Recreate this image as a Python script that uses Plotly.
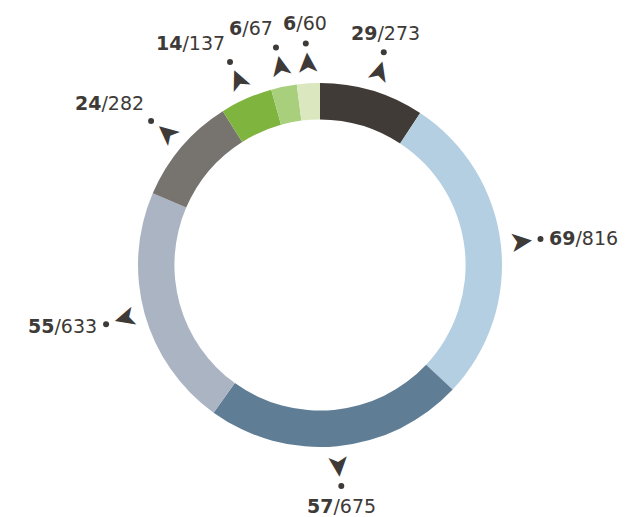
import numpy as np
import plotly.graph_objects as go

# ---- data ----
numerators = [29, 69, 57, 55, 24, 14, 6, 6]
totals = [273, 816, 675, 633, 282, 137, 67, 60]
colors = ["#403b37", "#b3cfe1", "#5f7e96", "#aab4c3",
          "#77736f", "#7fb43e", "#a8d07c", "#dbe8bf"]

# ---- layout constants ----
W, H = 626, 517
CX, CY, R = 320, 265, 182
HOLE = 0.80
INK = "#3d3a37"
FONT = "DejaVu Sans"
R_ARROW, R_DOT, R_LABEL = 202, 222, 229

fig = go.Figure()
fig.add_trace(go.Pie(
    values=totals, sort=False, direction="clockwise", rotation=0,
    hole=HOLE, textinfo="none", hoverinfo="skip", showlegend=False,
    marker=dict(colors=colors, line=dict(width=0)),
    domain=dict(x=[(CX - R) / W, (CX + R) / W],
                y=[(H - CY - R) / H, (H - CY + R) / H]),
))

vals = np.array(totals, dtype=float)
cum = np.cumsum(vals)
mid = (cum - vals / 2) / vals.sum() * 2 * np.pi
s, c = np.sin(mid), np.cos(mid)
deg = np.degrees(mid)


def pt(r):
    return CX + r * s, CY - r * c


dx, dy = pt(R_DOT)
fig.add_trace(go.Scatter(x=dx, y=dy, mode="markers", hoverinfo="skip",
                         marker=dict(size=6, color=INK), showlegend=False))

ax_, ay_ = pt(R_ARROW)
lx, ly = pt(R_LABEL)
annotations = []
for i in range(len(totals)):
    annotations.append(dict(
        x=ax_[i], y=ay_[i], xref="x", yref="y", showarrow=False,
        text="\u27a4", textangle=deg[i] - 90, borderpad=0,
        xanchor="center", yanchor="middle",
        font=dict(family=FONT, size=29, color=INK)))
    xa = "left" if s[i] > 0.7 else ("right" if s[i] < -0.15 else "center")
    ya = "bottom" if c[i] > 0.5 else ("top" if c[i] < -0.7 else "middle")
    annotations.append(dict(
        x=lx[i], y=ly[i], xref="x", yref="y", showarrow=False,
        xanchor=xa, yanchor=ya,
        text=f"<b>{numerators[i]}</b>/{totals[i]}",
        font=dict(family=FONT, size=19, color=INK)))

fig.update_layout(
    width=W, height=H, margin=dict(l=0, r=0, t=0, b=0),
    paper_bgcolor="white", plot_bgcolor="white",
    xaxis=dict(range=[0, W], visible=False, fixedrange=True),
    yaxis=dict(range=[H, 0], visible=False, fixedrange=True),
    annotations=annotations,
)

fig.write_html("out.html", config={"displayModeBar": False},
               post_script="document.body.style.margin='0';")
